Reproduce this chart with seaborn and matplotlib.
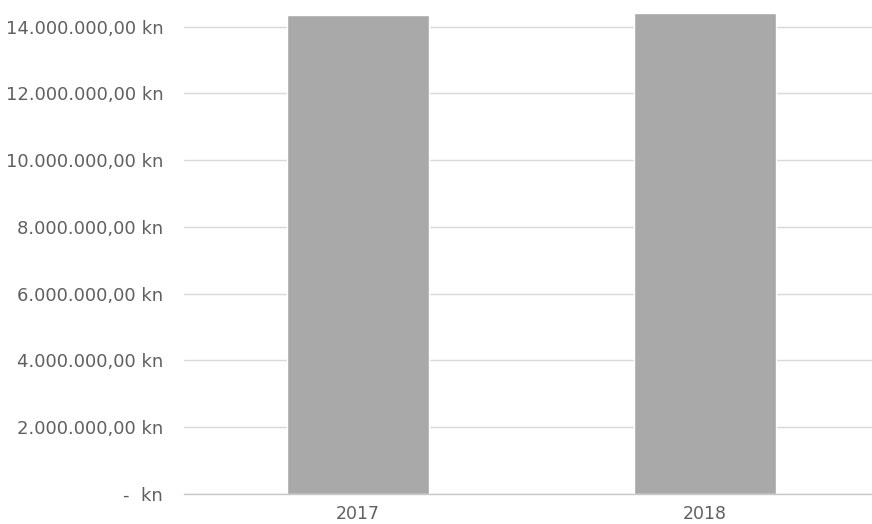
import matplotlib
matplotlib.use("Agg")
import matplotlib.pyplot as plt
import seaborn as sns
import pandas as pd
from matplotlib.ticker import FixedLocator, FuncFormatter

years = ["2017", "2018"]
values = [14350000, 14400000]
tick_values = [0, 2000000, 4000000, 6000000, 8000000, 10000000, 12000000, 14000000]

def fmt(v, pos=None):
    if v == 0:
        return "-  kn"
    s = f"{v:,.2f}".replace(",", "X").replace(".", ",").replace("X", ".")
    return s + " kn"

sns.set_theme(style="white")
plt.rcParams['font.family'] = ['DejaVu Sans']

df = pd.DataFrame({"year": years, "value": values})
fig = plt.figure(figsize=(8.72, 5.24), dpi=100)
ax = fig.add_axes([184/872, 30/524, 688/872, 494/524])
sns.barplot(data=df, x="year", y="value", color="#a9a9a9", width=0.41,
            saturation=1, ax=ax, zorder=2)
ax.set_xlim(-0.5, 1.48)
ax.set_ylim(0, 14.8e6)
ax.yaxis.set_major_locator(FixedLocator(tick_values))
ax.yaxis.set_major_formatter(FuncFormatter(fmt))
ax.grid(axis="y", color="#d9d9d9", linewidth=1, zorder=0)
ax.set_axisbelow(True)
for s in ["top", "right", "left"]:
    ax.spines[s].set_visible(False)
ax.spines["bottom"].set_color("#c8c8c8")
ax.spines["bottom"].set_linewidth(1)
ax.tick_params(axis="y", length=0, pad=15, labelsize=13, labelcolor="#606060")
ax.tick_params(axis="x", length=0, pad=8, labelsize=12.5, labelcolor="#606060")
ax.set_xlabel("")
ax.set_ylabel("")
fig.savefig("out.png", dpi=100)
